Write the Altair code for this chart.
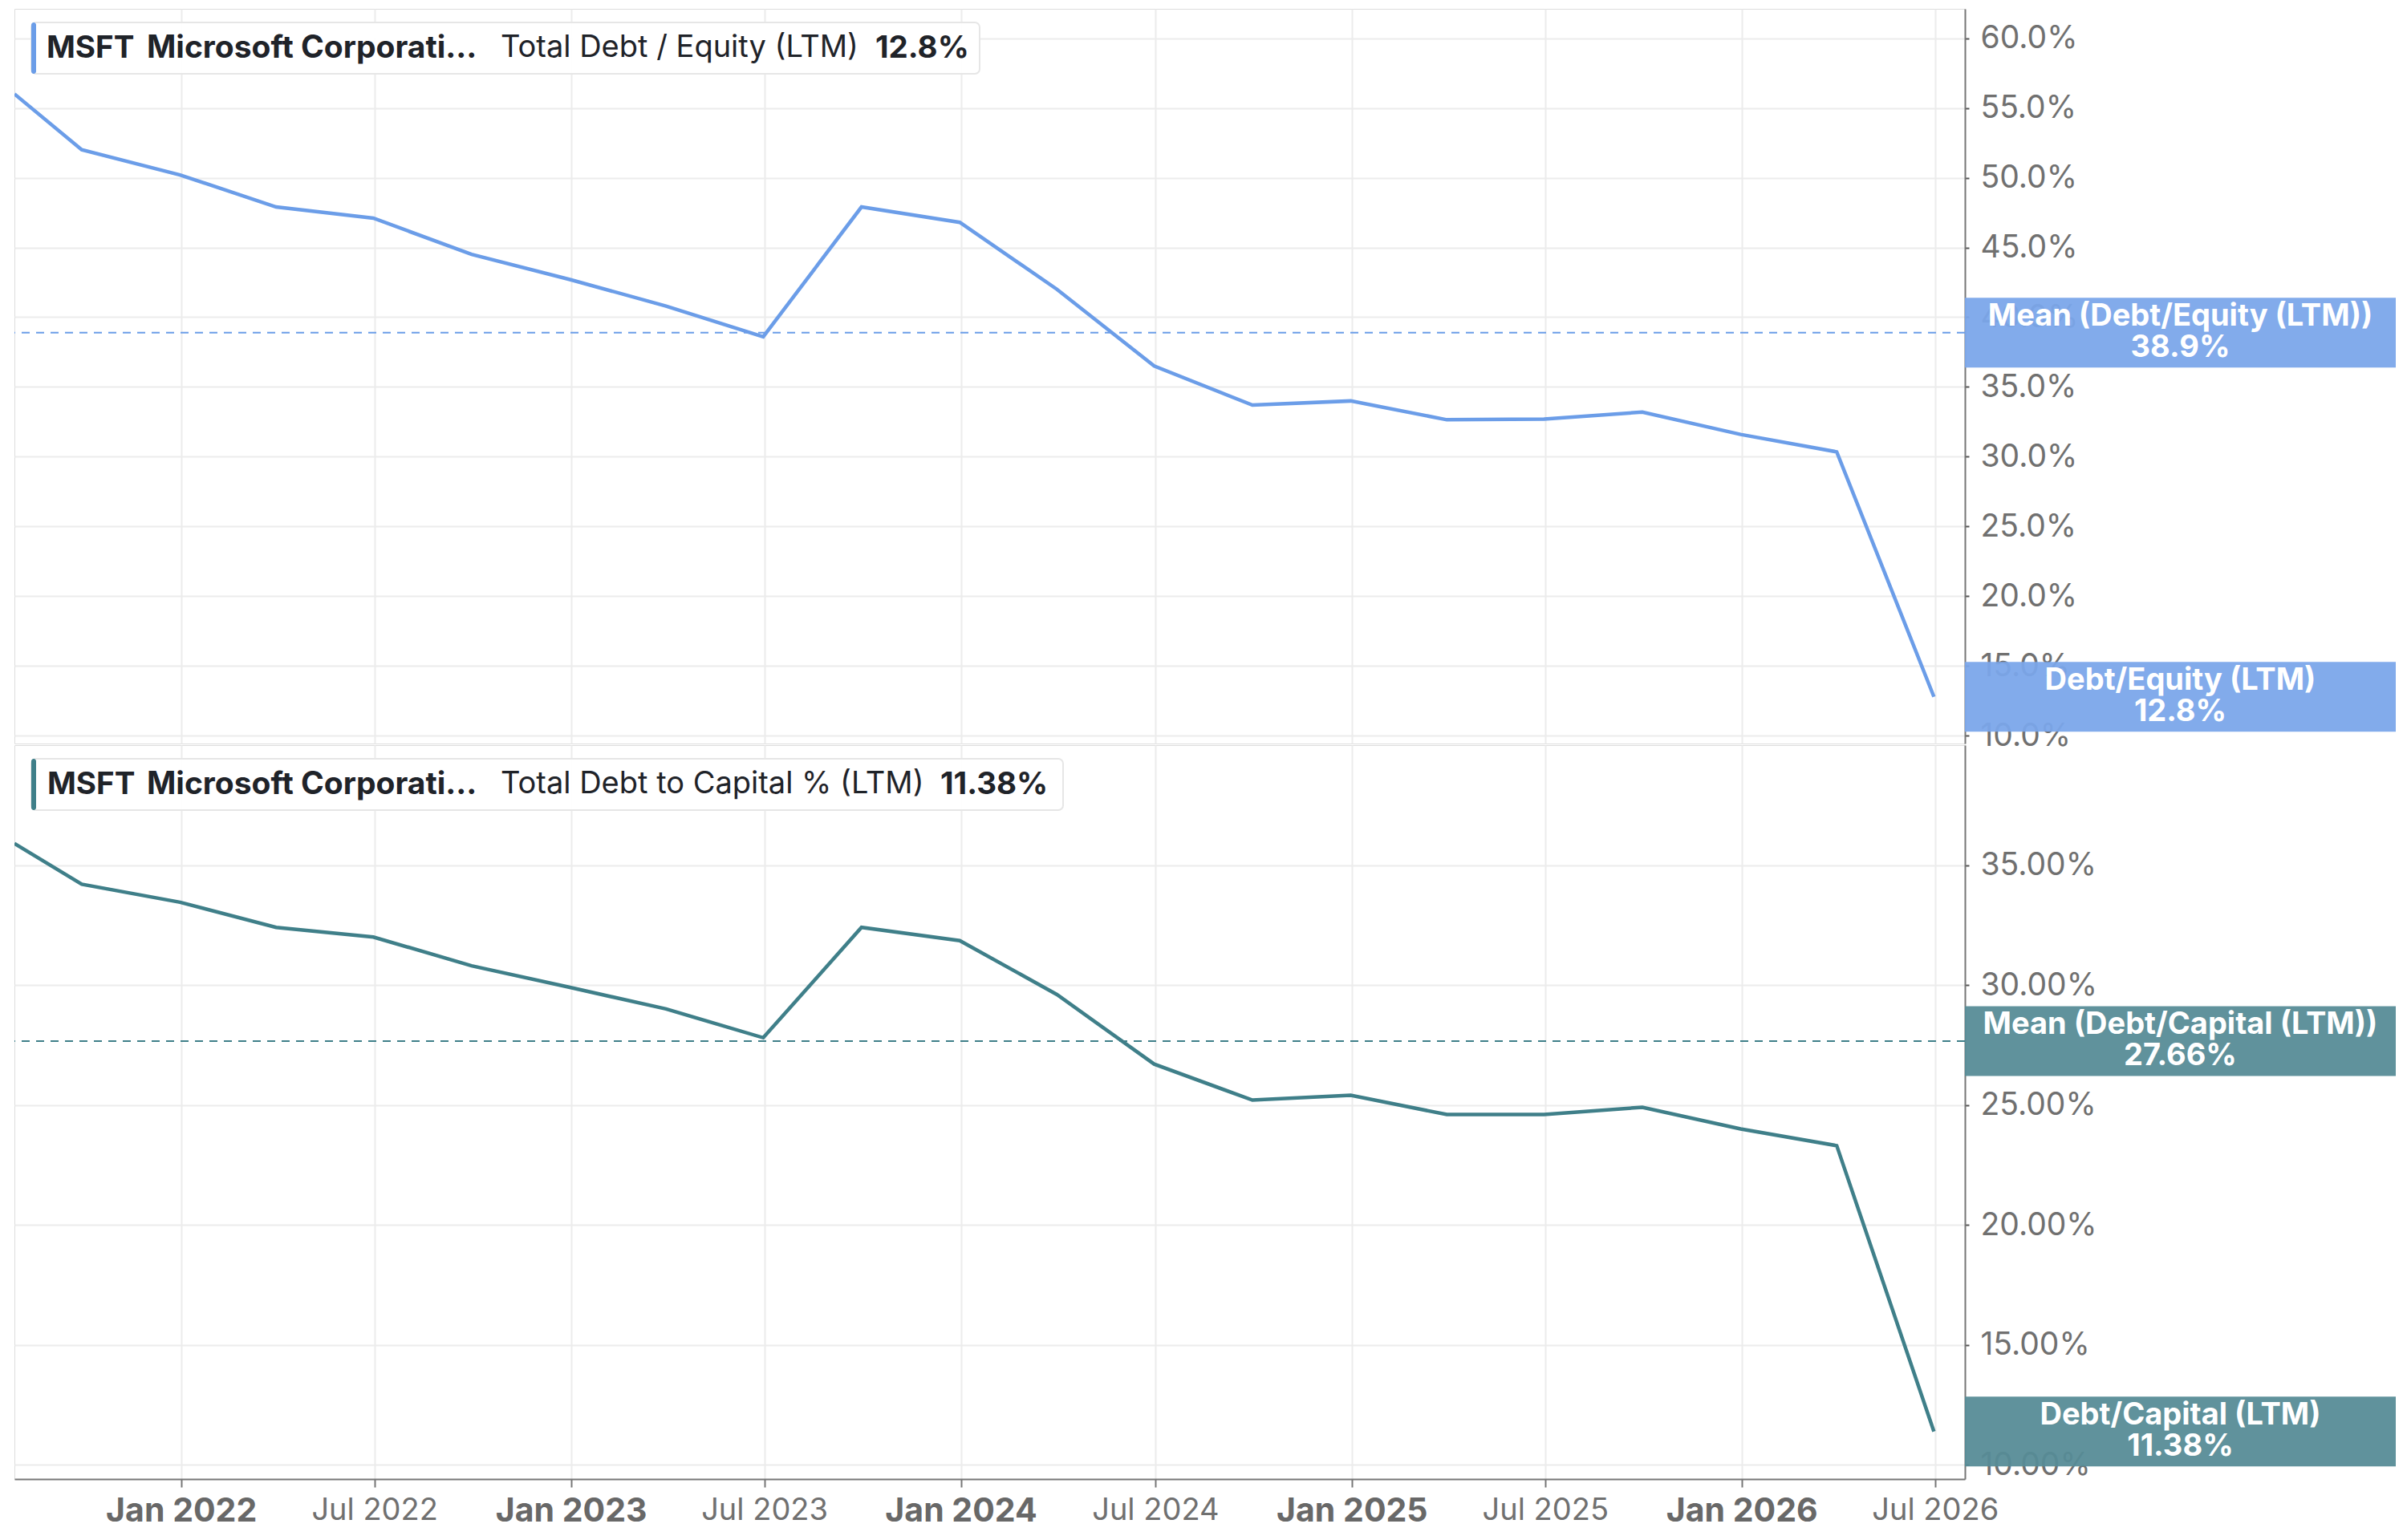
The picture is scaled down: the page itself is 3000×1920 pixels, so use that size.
import altair as alt
import pandas as pd

# ---------------- data ----------------
dates = ["2021-07-29", "2021-09-30", "2021-12-31", "2022-03-31", "2022-06-30",
         "2022-09-30", "2022-12-31", "2023-03-31", "2023-06-30", "2023-09-30",
         "2023-12-31", "2024-03-31", "2024-06-30", "2024-09-30", "2024-12-31",
         "2025-03-31", "2025-06-30", "2025-09-30", "2025-12-31", "2026-03-31",
         "2026-06-30"]
debt_equity = [56.0, 52.0, 50.2, 47.9, 47.1, 44.5, 42.7, 40.8, 38.6, 47.9,
               46.8, 42.0, 36.5, 33.7, 34.0, 32.65, 32.7, 33.2, 31.6, 30.35, 12.8]
debt_capital = [35.9, 34.2, 33.45, 32.4, 32.0, 30.8, 29.9, 29.0, 27.8, 32.4,
                31.85, 29.6, 26.7, 25.2, 25.4, 24.6, 24.6, 24.9, 24.0, 23.3, 11.38]
de_mean = 38.9
dc_mean = 27.66
de_ticks = [10, 15, 20, 25, 30, 35, 40, 45, 50, 55, 60]
dc_ticks = [10, 15, 20, 25, 30, 35]
x_tick_months = [(2022, 1), (2022, 7), (2023, 1), (2023, 7), (2024, 1),
                 (2024, 7), (2025, 1), (2025, 7), (2026, 1), (2026, 7)]
de_legend = ["MSFT", "Microsoft Corporati...", "Total Debt / Equity (LTM)", "12.8%"]
dc_legend = ["MSFT", "Microsoft Corporati...", "Total Debt to Capital % (LTM)", "11.38%"]
de_labels = ["Mean (Debt/Equity (LTM))\n38.9%", "Debt/Equity (LTM)\n12.8%"]
dc_labels = ["Mean (Debt/Capital (LTM))\n27.66%", "Debt/Capital (LTM)\n11.38%"]

# ---------------- style ----------------
W = 2431
FONT = "Inter"
GRID = "#ececec"
AXIS_GRAY = "#777777"
LABEL_GRAY = "#707070"
TEXT_DARK = "#1f2329"
BOX_W = 537
BOX_H = 87
LINE_H = 39

x_domain = [alt.DateTime(year=2021, month=7, date=29, utc=True),
            alt.DateTime(year=2026, month=7, date=29, utc=True)]
x_values = [alt.DateTime(year=y, month=m, date=1, utc=True) for y, m in x_tick_months]


def panel(values, mean, last_value, ticks, domain, decimals, line_color, box_color,
          legend_parts, legend_x, legend_right, labels, show_x, height):
    df = pd.DataFrame({"date": dates, "value": values})

    if show_x:
        x_axis = alt.Axis(
            values=x_values, title=None, grid=True, gridColor=GRID, gridWidth=2,
            labelExpr="utcFormat(datum.value, '%b %Y')",
            labelFont=FONT, labelLimit=0,
            labelColor={"expr": "utcmonth(datum.value) == 0 ? '#686868' : '#707070'"},
            labelFontSize={"expr": "utcmonth(datum.value) == 0 ? 41 : 38"},
            labelFontWeight={"expr": "utcmonth(datum.value) == 0 ? 'bold' : 'normal'"},
            labelFlush=False, labelPadding=10, labelOverlap=False,
            tickSize=10, tickColor=AXIS_GRAY, tickWidth=2,
            domain=True, domainColor=AXIS_GRAY, domainWidth=2)
    else:
        x_axis = alt.Axis(values=x_values, title=None, grid=True, gridColor=GRID,
                          gridWidth=2, labels=False, ticks=False, domain=False)

    x = alt.X("date:T", scale=alt.Scale(type="utc", domain=x_domain), axis=x_axis)
    y_scale = alt.Scale(domain=domain, nice=False, zero=False)
    y = alt.Y("value:Q", scale=y_scale, axis=alt.Axis(
        orient="right", values=ticks, title=None, grid=True, gridColor=GRID, gridWidth=2,
        labelExpr=f"format(datum.value, '.{decimals}f') + '%'",
        labelFont=FONT, labelFontSize=39, labelColor=LABEL_GRAY, labelPadding=14,
        labelOverlap=False, labelBound=False,
        tickSize=5, tickColor="#555555", tickWidth=2,
        domain=True, domainColor=AXIS_GRAY, domainWidth=2))

    line = alt.Chart(df).mark_line(color=line_color, strokeWidth=4.5, clip=True).encode(x=x, y=y)

    mean_df = pd.DataFrame({"value": [mean]})
    mean_rule = alt.Chart(mean_df).mark_rule(
        color=line_color, strokeWidth=2, strokeDash=[10, 8]
    ).encode(y=alt.Y("value:Q", scale=y_scale))

    lab_df = pd.DataFrame({"value": [mean, last_value], "label": labels})
    boxes = alt.Chart(lab_df).mark_rect(
        color=box_color, opacity=0.94, yOffset=-BOX_H / 2, y2Offset=BOX_H / 2
    ).encode(
        x=alt.value(W), x2=alt.value(W + BOX_W),
        y=alt.Y("value:Q", scale=y_scale), y2=alt.Y2("value"))
    box_text = alt.Chart(lab_df).mark_text(
        font=FONT, fontSize=38, fontWeight="bold", color="white", align="center",
        baseline="middle", lineBreak="\n", lineHeight=LINE_H, dy=-LINE_H / 2
    ).encode(x=alt.value(W + BOX_W / 2), y=alt.Y("value:Q", scale=y_scale), text="label:N")

    one = pd.DataFrame({"k": [0]})
    leg_box = alt.Chart(one).mark_rect(
        fill="white", fillOpacity=0.92, stroke="#e6e6e6", strokeWidth=2, cornerRadius=6
    ).encode(x=alt.value(21), x2=alt.value(legend_right), y=alt.value(17), y2=alt.value(81))
    leg_bar = alt.Chart(one).mark_rect(fill=line_color, cornerRadius=3).encode(
        x=alt.value(21), x2=alt.value(27), y=alt.value(17), y2=alt.value(81))
    weights = ["bold", "bold", "normal", "bold"]
    sizes = [38.5, 39, 38, 38.5]
    leg_texts = [
        alt.Chart(one).mark_text(
            text=t, font=FONT, fontSize=fs, fontWeight=wt, color=TEXT_DARK,
            align="left", baseline="middle"
        ).encode(x=alt.value(px), y=alt.value(49))
        for t, px, wt, fs in zip(legend_parts, legend_x, weights, sizes)
    ]

    return alt.layer(line, mean_rule, boxes, box_text, leg_box, leg_bar, *leg_texts).properties(
        width=W, height=height)


top = panel(debt_equity, de_mean, debt_equity[-1], de_ticks, [9.45, 62.1], 1,
            "#6b9de8", "#7aa6ea", de_legend, [40, 165, 606, 1073], 1203,
            de_labels, False, 916)
bottom = panel(debt_capital, dc_mean, debt_capital[-1], dc_ticks, [9.4, 40.0], 2,
               "#3f7f89", "#568b96", dc_legend, [41, 165, 606, 1154], 1307,
               dc_labels, True, 915)

chart = alt.vconcat(top, bottom, spacing=2, bounds="flush").resolve_scale(
    y="independent"
).properties(
    padding={"left": 8, "top": 2, "right": 0, "bottom": 0}
).configure_view(
    stroke=AXIS_GRAY, strokeWidth=2
).configure(font=FONT, background="white")

chart.save("out.html", embed_options={"renderer": "svg", "actions": False})
